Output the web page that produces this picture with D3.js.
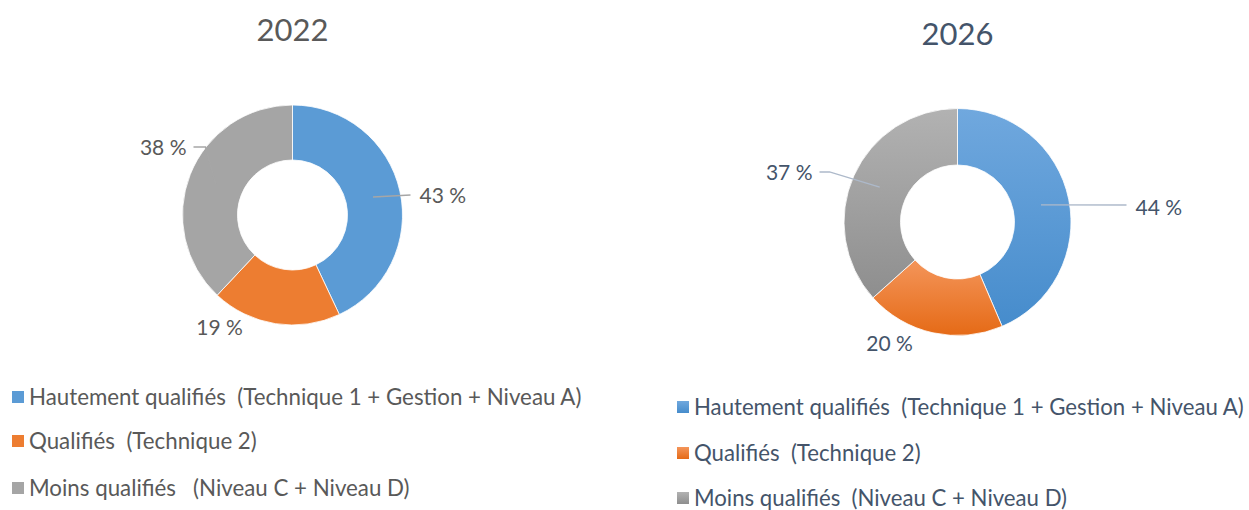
<!DOCTYPE html>
<html>
<head>
<meta charset="utf-8">
<script src="https://cdn.jsdelivr.net/npm/d3@7"></script>
<style>
  body { margin: 0; background: #fff; }
  svg text { font-family: Lato, "Open Sans", sans-serif; white-space: pre; }
</style>
</head>
<body>
<div id="chart"></div>
<script>
const width = 1249;
const height = 510;

// data
const categories2022 = ["Hautement qualifiés  (Technique 1 + Gestion + Niveau A)", "Qualifiés  (Technique 2)", "Moins qualifiés   (Niveau C + Niveau D)"];
const categories2026 = ["Hautement qualifiés  (Technique 1 + Gestion + Niveau A)", "Qualifiés  (Technique 2)", "Moins qualifiés  (Niveau C + Niveau D)"];
const values2022 = [43, 19, 38];
const values2026 = [44, 20, 37];

const flatColors = ["#5B9BD5", "#ED7D31", "#A5A5A5"];
const gradColors = [["#70A8DE", "#468CCC"], ["#F4955A", "#E56A16"], ["#B2B2B2", "#8E8E8E"]];

const svg = d3.select("#chart")
    .append("svg")
    .attr("width", width)
    .attr("height", height);

const defs = svg.append("defs");
gradColors.forEach((c, i) => {
    const g = defs.append("linearGradient")
        .attr("id", "grad" + i)
        .attr("x1", 0).attr("y1", 0).attr("x2", 0).attr("y2", 1);
    g.append("stop").attr("offset", "0%").attr("stop-color", c[0]);
    g.append("stop").attr("offset", "100%").attr("stop-color", c[1]);
});

const charts = [
    {
        title: "2022", categories: categories2022, values: values2022,
        cx: 292.5, cy: 215, r: 110, r0: 55,
        titleY: 30, textColor: "#595959", lineColor: "#A6A6A6",
        fill: i => flatColors[i],
        // label placement relative to the centre
        labels: [
            {x: 127, y: -19, anchor: "start", leader: [[118, -20]]},
            {x: -73, y: 113, anchor: "middle", leader: null},
            {x: -106, y: -67, anchor: "end", leader: [[-87, -68], [-99, -68]]}
        ],
        legendX: 12, legendY: [397, 441, 488], legendSize: 22.3
    },
    {
        title: "2026", categories: categories2026, values: values2026,
        cx: 957.5, cy: 222, r: 113.5, r0: 57,
        titleY: 34, textColor: "#44546A", lineColor: "#ADB9CA",
        fill: i => "url(#grad" + i + ")",
        labels: [
            {x: 178, y: -14, anchor: "start", leader: [[169, -17]]},
            {x: -68, y: 122, anchor: "middle", leader: null},
            {x: -145, y: -49, anchor: "end", leader: [[-128, -50], [-138, -50]]}
        ],
        legendX: 677, legendY: [407, 453, 498], legendSize: 22.2
    }
];

const pie = d3.pie().sort(null).value(d => d);

charts.forEach(c => {
    const g = svg.append("g")
        .attr("transform", "translate(" + c.cx + "," + c.cy + ")");

    const arc = d3.arc().innerRadius(c.r0).outerRadius(c.r);
    const arcs = pie(c.values);

    g.selectAll(".slice")
        .data(arcs)
        .enter()
        .append("path")
        .attr("class", "slice")
        .attr("d", arc)
        .attr("fill", (d, i) => c.fill(i))
        .attr("stroke", "#fff")
        .attr("stroke-width", 0.8);

    // leader lines
    g.selectAll(".leader")
        .data(arcs.filter((d, i) => c.labels[i].leader))
        .enter()
        .append("polyline")
        .attr("class", "leader")
        .attr("fill", "none")
        .attr("stroke", c.lineColor)
        .attr("stroke-width", 1.3)
        .attr("points", d => [arc.centroid(d)].concat(c.labels[d.index].leader).map(p => p.join(",")).join(" "));

    g.selectAll(".label")
        .data(arcs)
        .enter()
        .append("text")
        .attr("class", "label")
        .attr("x", d => c.labels[d.index].x)
        .attr("y", d => c.labels[d.index].y)
        .attr("dy", "0.35em")
        .attr("text-anchor", d => c.labels[d.index].anchor)
        .style("font-size", "21px")
        .style("fill", c.textColor)
        .text(d => d.data + " %");

    svg.append("text")
        .attr("x", c.cx)
        .attr("y", c.titleY)
        .attr("dy", "0.35em")
        .attr("text-anchor", "middle")
        .style("font-size", "31px")
        .style("fill", c.textColor)
        .text(c.title);

    // legend
    const lg = svg.selectAll(".legend" + c.title)
        .data(c.categories)
        .enter()
        .append("g")
        .attr("transform", (d, i) => "translate(" + c.legendX + "," + c.legendY[i] + ")");

    lg.append("rect")
        .attr("x", 0)
        .attr("y", -6)
        .attr("width", 12)
        .attr("height", 12)
        .attr("fill", (d, i) => c.fill(i));

    lg.append("text")
        .attr("x", 17)
        .attr("y", 0)
        .attr("dy", "0.35em")
        .style("font-size", c.legendSize + "px")
        .style("fill", c.textColor)
        .text(d => d);
});
</script>
</body>
</html>
